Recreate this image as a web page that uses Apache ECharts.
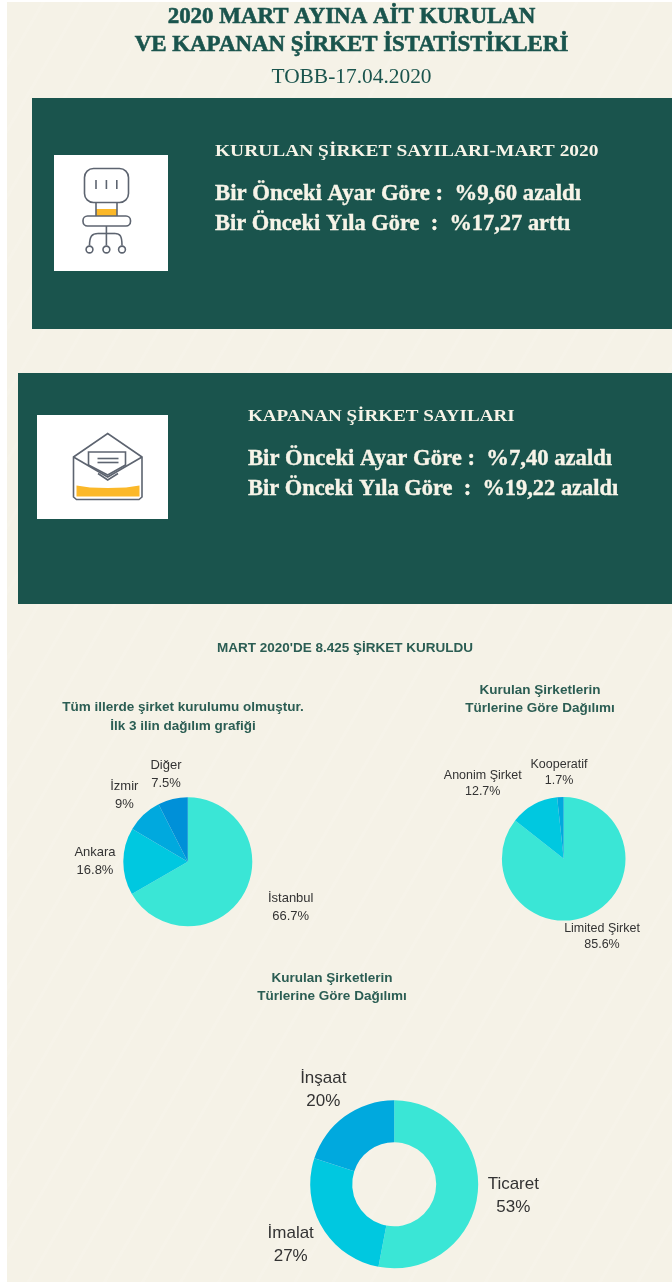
<!DOCTYPE html>
<html lang="tr">
<head>
<meta charset="utf-8">
<style>
  html, body { margin: 0; padding: 0; background: #fff; }
  #bg { position: absolute; left: 7px; top: 2px; width: 665px; height: 1280px; background-color: #f5f2e7;
        background-image: repeating-linear-gradient(120deg, rgba(255,255,255,0) 0 30px, rgba(255,255,255,.1) 30px 33px); }
  #container { position: absolute; left: 0; top: 0; width: 672px; height: 1283px; }
</style>
</head>
<body>
<div id="bg"></div>
<div id="container"></div>
<script src="https://cdn.jsdelivr.net/npm/echarts@6/dist/echarts.min.js"></script>
<script>
// il dagilimi
var cityNames = ['İstanbul', 'Ankara', 'İzmir', 'Diğer'];
var cityValues = [66.7, 16.8, 9, 7.5];
// sirket turleri
var typeNames = ['Limited Şirket', 'Anonim Şirket', 'Kooperatif'];
var typeValues = [85.6, 12.7, 1.7];
// sektorler
var sectorNames = ['Ticaret', 'İmalat', 'İnşaat'];
var sectorValues = [53, 27, 20];

var green = '#1a544d';
var headGreen = '#2b5d53';
var cream = '#f7f4e8';
var pieColors = ['#3ae6d6', '#00c8e0', '#00a9de', '#0090d8'];
var ink = '#5d6470';
var yellow = '#fbb829';

var serif = '"Liberation Serif", serif';
var sans = '"Liberation Sans", Arial, sans-serif';

var myChart = echarts.init(document.getElementById('container'), null, { renderer: 'canvas' });

function toPie(names, values) {
  return names.map(function (n, i) { return { name: n, value: values[i] }; });
}

function txt(x, y, text, font, size, weight, color, align, sx, fat) {
  var s = {
    text: text, x: 0, y: 0, fill: color, align: align || 'left', verticalAlign: 'middle',
    font: weight + ' ' + size + 'px ' + font
  };
  if (fat) { s.stroke = color; s.lineWidth = fat; }
  return { type: 'text', x: x, y: y, scaleX: sx || 1, silent: true, style: s };
}
function box(x, y, w, h, fill, r) {
  return { type: 'rect', silent: true, shape: { x: x, y: y, width: w, height: h, r: r || 0 }, style: { fill: fill } };
}
function outline(x, y, w, h, r) {
  return { type: 'rect', silent: true, shape: { x: x, y: y, width: w, height: h, r: r }, style: { fill: '#fff', stroke: ink, lineWidth: 1.6 } };
}
function stroke(points) {
  return { type: 'polyline', silent: true, shape: { points: points }, style: { stroke: ink, lineWidth: 1.6, fill: null } };
}
function curve(x1, y1, cx1, cy1, cx2, cy2, x2, y2) {
  return { type: 'bezierCurve', silent: true, shape: { x1: x1, y1: y1, cpx1: cx1, cpy1: cy1, cpx2: cx2, cpy2: cy2, x2: x2, y2: y2 }, style: { stroke: ink, lineWidth: 1.6, fill: null } };
}
function wheel(x, y) {
  return { type: 'circle', silent: true, shape: { cx: x, cy: y, r: 3.4 }, style: { fill: '#fff', stroke: ink, lineWidth: 1.6 } };
}

var shapes = [
  txt(351.5, 17, '2020 MART AYINA AİT KURULAN', serif, 24, 'bold', green, 'center', 0.955, 0.6),
  txt(351.5, 45, 'VE KAPANAN ŞİRKET İSTATİSTİKLERİ', serif, 24, 'bold', green, 'center', 0.955, 0.6),
  txt(351.5, 78, 'TOBB-17.04.2020', serif, 20, 'normal', green, 'center', 1.07),

  box(32, 98, 640, 231, green),
  box(54, 155, 114, 116, '#fff'),
  txt(215, 152, 'KURULAN ŞİRKET SAYILARI-MART 2020', serif, 17, 'bold', cream, 'left', 1.143),
  txt(215, 194, 'Bir Önceki Ayar Göre :  %9,60 azaldı', serif, 23, 'bold', cream, 'left', 0.99, 0.4),
  txt(215, 224, 'Bir Önceki Yıla Göre  :  %17,27 arttı', serif, 23, 'bold', cream, 'left', 0.975, 0.4),

  box(18, 373, 654, 231, green),
  box(37, 415, 131, 104, '#fff'),
  txt(248, 417, 'KAPANAN ŞİRKET SAYILARI', serif, 17, 'bold', cream, 'left', 1.12),
  txt(248, 459, 'Bir Önceki Ayar Göre :  %7,40 azaldı', serif, 23, 'bold', cream, 'left', 0.985, 0.4),
  txt(248, 489, 'Bir Önceki Yıla Göre  :  %19,22 azaldı', serif, 23, 'bold', cream, 'left', 0.975, 0.4),

  // sandalye
  outline(84.5, 168.5, 44, 34, 9),
  stroke([[96, 180], [96, 189]]), stroke([[106.4, 180], [106.4, 189]]), stroke([[116.8, 180], [116.8, 189]]),
  box(96, 209, 21, 7, yellow),
  stroke([[96, 202], [96, 216]]), stroke([[117, 202], [117, 216]]),
  outline(83, 216, 47.5, 10, 4.5),
  stroke([[106.4, 226], [106.4, 245.5]]),
  curve(89.5, 245.5, 89.5, 236, 92, 233.5, 98, 233.5),
  stroke([[98, 233.5], [115, 233.5]]),
  curve(115, 233.5, 120, 233.5, 122, 236, 122, 245.5),
  wheel(89.5, 249.5), wheel(106.4, 249.5), wheel(122, 249.5),

  // zarf
  { type: 'polygon', silent: true, shape: { points: [[73.5, 457], [107.7, 433.5], [142, 457], [142, 497], [139, 499.5], [76.5, 499.5], [73.5, 497]] }, style: { fill: '#fff', stroke: ink, lineWidth: 1.6 } },
  { type: 'polygon', silent: true, shape: { points: [[76.5, 485.5], [90, 487.5], [107.7, 488], [126, 487.5], [139.5, 485.5], [139.5, 496.5], [76.5, 496.5]] }, style: { fill: yellow } },
  stroke([[73.5, 457], [107.7, 477], [142, 457]]),
  { type: 'polygon', silent: true, shape: { points: [[88.5, 452], [125.5, 452], [125.5, 465], [107.7, 475], [88.5, 465]] }, style: { fill: '#fff', stroke: ink, lineWidth: 1.6 } },
  stroke([[97.5, 458.5], [118.5, 458.5]]), stroke([[97.5, 462.5], [118.5, 462.5]]),
  stroke([[98, 473.5], [107.7, 480], [118, 473.5]]),

  txt(345, 648, "MART 2020'DE 8.425 ŞİRKET KURULDU", sans, 13.5, 'bold', headGreen, 'center'),
  txt(183, 707, 'Tüm illerde şirket kurulumu olmuştur.', sans, 13.5, 'bold', headGreen, 'center'),
  txt(183, 726, 'İlk 3 ilin dağılım grafiği', sans, 13.5, 'bold', headGreen, 'center'),
  txt(540, 690, 'Kurulan Şirketlerin', sans, 13.5, 'bold', headGreen, 'center'),
  txt(540, 708, 'Türlerine Göre Dağılımı', sans, 13.5, 'bold', headGreen, 'center'),
  txt(332, 978, 'Kurulan Şirketlerin', sans, 13.5, 'bold', headGreen, 'center'),
  txt(332, 996, 'Türlerine Göre Dağılımı', sans, 13.5, 'bold', headGreen, 'center')
];

// etiket merkezleri
var cityLabelPos = [[290.7, 907.5], [95, 861.7], [124.3, 795], [166, 774]];
var typeLabelPos = [[602, 936.7], [482.7, 783.3], [559, 772.7]];
var sectorLabelPos = [[513.3, 1196], [290.7, 1245], [323.3, 1090]];

function pieSeries(data, center, radius, labelPos, size, lineH) {
  return {
    type: 'pie', silent: true, animation: false,
    center: center, radius: radius, startAngle: 90, clockwise: true,
    data: data,
    itemStyle: {
      borderWidth: 0,
      color: function (p) { return pieColors[p.dataIndex]; }
    },
    label: {
      show: true, position: 'outside', formatter: '{b}\n{c}%', overflow: 'none',
      fontFamily: sans, fontSize: size, lineHeight: lineH, color: '#333'
    },
    labelLine: { show: false },
    labelLayout: function (p) {
      var q = labelPos[p.dataIndex];
      return { x: q[0], y: q[1], align: 'center', verticalAlign: 'middle' };
    }
  };
}

var option = {
  graphic: { elements: shapes },
  series: [
    pieSeries(toPie(cityNames, cityValues), [187.8, 861.8], [0, 64.5], cityLabelPos, 13, 18),
    pieSeries(toPie(typeNames, typeValues), [563.7, 858.8], [0, 61.8], typeLabelPos, 12.5, 16.5),
    pieSeries(toPie(sectorNames, sectorValues), [394.2, 1184.3], [42, 84], sectorLabelPos, 17, 23)
  ]
};
myChart.setOption(option);
</script>
</body>
</html>
